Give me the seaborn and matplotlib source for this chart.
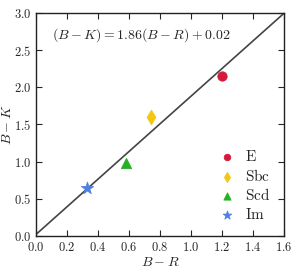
import numpy as np
import pandas as pd
import matplotlib
matplotlib.use("Agg")
import matplotlib.pyplot as plt
import seaborn as sns

# galaxy types and colours
types = ["E", "Sbc", "Scd", "Im"]
b_r = [1.20, 0.74, 0.58, 0.33]
b_k = [2.15, 1.60, 0.98, 0.65]
colors = ["#d41a3c", "#f2c80f", "#27b027", "#4f7fe0"]
markers = ["o", "d", "^", "*"]
sizes = [45, 55, 55, 85]

# fit line
slope, icept = 1.86, 0.02

sns.set_style("ticks")
plt.rcParams["font.family"] = ["DejaVu Serif"]
plt.rcParams["mathtext.fontset"] = "cm"

df = pd.DataFrame({"type": types, "B-R": b_r, "B-K": b_k})

fig = plt.figure(figsize=(3.0, 2.74), dpi=100)
ax = fig.add_axes([0.12, 0.139, 0.827, 0.814])

xl = np.array([0.0, 1.6])
ax.plot(xl, slope * xl + icept, color="#444444", lw=1.2, zorder=1)

for t, c, m, s in zip(types, colors, markers, sizes):
    sub = df[df["type"] == t]
    sns.scatterplot(data=sub, x="B-R", y="B-K", color=c, marker=m, s=s,
                    edgecolor=c, linewidth=0.6, label=t, ax=ax, zorder=3)

ax.text(0.1, 2.65, r"$(B-K) = 1.86(B-R) + 0.02$", fontsize=10)

ax.set_xlim(0, 1.6)
ax.set_ylim(0, 3.0)
ax.set_xticks(np.arange(0, 1.61, 0.2))
ax.set_yticks(np.arange(0, 3.01, 0.5))
ax.set_xticklabels([r"$%.1f$" % v for v in np.arange(0, 1.61, 0.2)])
ax.set_yticklabels([r"$%.1f$" % v for v in np.arange(0, 3.01, 0.5)])
ax.tick_params(direction="in", top=True, right=True, labelsize=9,
               length=4, width=0.8)
for sp in ax.spines.values():
    sp.set_linewidth(1.0)
    sp.set_color("#222222")
ax.set_xlabel(r"$B-R$", fontsize=10, labelpad=1)
ax.set_ylabel(r"$B-K$", fontsize=10, labelpad=0)

leg = ax.legend(loc="lower right", frameon=False, fontsize=11,
                handletextpad=0.2, borderaxespad=0.5, labelspacing=0.25,
                markerscale=0.7)
for txt in leg.get_texts():
    txt.set_text(r"$\mathrm{%s}$" % txt.get_text())

fig.savefig("out.png", dpi=100)
